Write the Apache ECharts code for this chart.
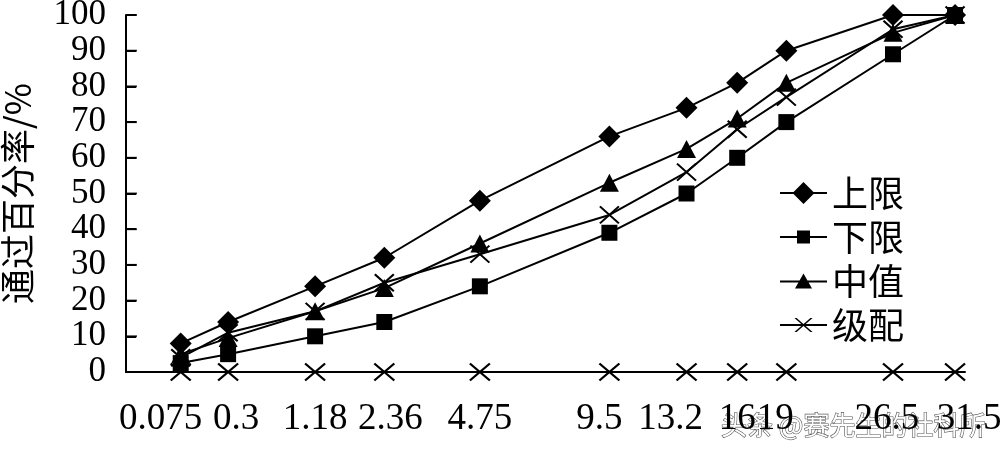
<!DOCTYPE html>
<html>
<head>
<meta charset="utf-8">
<script src="https://cdn.jsdelivr.net/npm/echarts@6/dist/echarts.min.js"></script>
<style>
html,body{margin:0;padding:0;background:#fff;}
#chart{width:1000px;height:454px;}
</style>
</head>
<body>
<div id="chart"></div>
<script>
// Sieve sizes (mm) and their tick labels
const sieveSizes = [0.075, 0.3, 1.18, 2.36, 4.75, 9.5, 13.2, 16, 19, 26.5, 31.5];
const sieveLabels = ['0.075', '0.3', '1.18', '2.36', '4.75', '9.5', '13.2', '16', '19', '26.5', '31.5'];
// Passing percentages (%)
const upperLimit = [8, 14, 24, 32, 48, 66, 74, 81, 90, 100, 100];
const lowerLimit = [2.5, 5, 10, 14, 24, 39, 50, 60, 70, 89, 100];
const middleValue = [5, 9.5, 17, 23.5, 36, 53, 62.5, 71, 81, 95, 100];
const gradation = [4, 11, 17, 25, 33, 44, 56, 68, 77, 96, 100];
const baselineMarks = [0, 0, 0, 0, 0, 0, 0, 0, 0, 0, 0];
const yTickValues = [0, 10, 20, 30, 40, 50, 60, 70, 80, 90, 100];
const seriesNames = ['上限', '下限', '中值', '级配'];

// 0.45 power grading chart scale
const POWER = 0.45;
const toX = d => Math.pow(d, POWER);
const xs = sieveSizes.map(toX);
const pairs = vals => vals.map((v, i) => [xs[i], v]);

// label nudges (px, styling only): horizontal shift of each tick label
const labelShift = [-20, 8, 0, 6, 0, -10, -16, 0, -11, -6, 14];

const crossPath = 'path://M0,0L10,10M0,10L10,0';
const font = '"Liberation Serif", "Times New Roman", serif';
const cjk = '"Noto Sans CJK SC", sans-serif';

// legend icons: line + marker, as filled paths (clockwise)
function legendIcon(kind) {
  const c = 23.5;
  let p = 'M0,-1L47,-1L47,1L0,1Z';
  if (kind === 'diamond') p += `M${c},-11L${c + 11},0L${c},11L${c - 11},0Z`;
  if (kind === 'rect') p += `M${c - 6.5},-6.5L${c + 6.5},-6.5L${c + 6.5},6.5L${c - 6.5},6.5Z`;
  if (kind === 'triangle') p += `M${c},-8L${c + 8.5},7L${c - 8.5},7Z`;
  if (kind === 'cross') {
    const d = 1.1;
    p += `M${c - 8 - d},-7L${c - 8 + d},-7L${c + 8 + d},7L${c + 8 - d},7Z`;
    p += `M${c + 8 - d},-7L${c + 8 + d},-7L${c - 8 + d},7L${c - 8 - d},7Z`;
  }
  return 'path://' + p;
}
const legendKinds = ['diamond', 'rect', 'triangle', 'cross'];

function lineSeries(name, vals, symbol, size, extra) {
  return Object.assign({
    name: name,
    type: 'line',
    data: pairs(vals),
    symbol: symbol,
    symbolSize: size,
    showSymbol: true,
    clip: false,
    lineStyle: { color: '#000', width: 2 },
    itemStyle: { color: '#000', borderColor: '#000', borderWidth: 0 },
    emphasis: { disabled: true },
    animation: false,
    z: 3
  }, extra || {});
}

const rich = {};
labelShift.forEach((s, i) => {
  rich['s' + i] = {
    fontSize: 37,
    fontFamily: font,
    color: '#000',
    padding: s < 0 ? [0, -2 * s, 0, 0] : [0, 0, 0, 2 * s]
  };
});

const chart = echarts.init(document.getElementById('chart'));
chart.setOption({
  backgroundColor: '#fff',
  animation: false,
  grid: { left: 126, right: 35, top: 15, bottom: 82, containLabel: false, outerBoundsMode: 'none' },
  xAxis: {
    type: 'value',
    min: 0,
    max: 4.78,
    axisLine: { show: true, onZero: false, lineStyle: { color: '#000', width: 2 } },
    axisTick: { show: false },
    splitLine: { show: false },
    axisLabel: {
      customValues: xs,
      showMinLabel: true,
      showMaxLabel: true,
      hideOverlap: false,
      margin: 29,
      color: '#000',
      fontSize: 37,
      fontFamily: font,
      rich: rich,
      formatter: function (v) {
        const i = xs.findIndex(x => Math.abs(x - v) < 1e-6);
        return i >= 0 ? '{s' + i + '|' + sieveLabels[i] + '}' : '';
      }
    }
  },
  yAxis: {
    type: 'value',
    min: 0,
    max: 100,
    interval: 10,
    name: '通过百分率/%',
    nameLocation: 'middle',
    nameGap: 91,
    nameTextStyle: { color: '#000', fontSize: 35, fontFamily: cjk },
    axisLine: { show: true, lineStyle: { color: '#000', width: 2 } },
    axisTick: {
      show: true, inside: true, length: 10,
      lineStyle: { color: '#000', width: 2 }
    },
    splitLine: { show: false },
    axisLabel: {
      customValues: yTickValues,
      color: '#000', fontSize: 35, fontFamily: font, margin: 20,
      showMinLabel: true, showMaxLabel: true, hideOverlap: false
    }
  },
  legend: {
    orient: 'vertical',
    left: 775,
    top: 170,
    itemWidth: 47,
    itemHeight: 26,
    itemGap: 8,
    selectedMode: false,
    data: seriesNames.map((n, i) => ({
      name: n,
      icon: legendIcon(legendKinds[i]),
      itemStyle: { color: '#000', borderWidth: 0 }
    })),
    textStyle: { color: '#000', fontSize: 36, fontFamily: cjk }
  },
  series: [
    lineSeries(seriesNames[0], upperLimit, 'diamond', [22, 22]),
    lineSeries(seriesNames[1], lowerLimit, 'rect', 16),
    lineSeries(seriesNames[2], middleValue, 'triangle', [19, 18]),
    lineSeries(seriesNames[3], gradation, crossPath, [19, 17], {
      symbolKeepAspect: false,
      itemStyle: { color: 'rgba(0,0,0,0)', borderColor: '#000', borderWidth: 2 }
    }),
    lineSeries('筛孔', baselineMarks, crossPath, [20, 17], {
      symbolKeepAspect: false,
      lineStyle: { width: 0, opacity: 0 },
      itemStyle: { color: 'rgba(0,0,0,0)', borderColor: '#000', borderWidth: 2 }
    }),
    {
      // inward y-axis tick marks placed through the axis scale
      name: 'yTicks',
      type: 'scatter',
      data: yTickValues.map(v => [0, v]),
      symbol: 'rect',
      symbolSize: [11, 2],
      symbolOffset: [5.5, 0],
      clip: false,
      itemStyle: { color: '#000' },
      z: 4
    }
  ],
  graphic: [{
    type: 'text',
    right: 14,
    top: 412,
    silent: true,
    style: {
      text: '头条 @赛先生的社科所',
      fontSize: 26,
      fontFamily: cjk,
      fill: '#fff',
      stroke: '#555',
      lineWidth: 1.2
    }
  }]
});
</script>
</body>
</html>
